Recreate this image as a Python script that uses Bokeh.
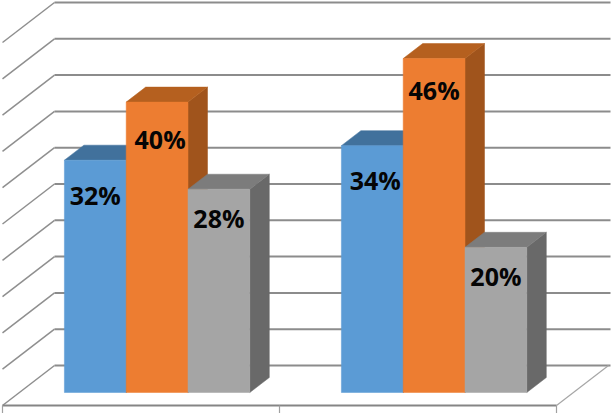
from bokeh.plotting import figure
from bokeh.models import Range1d, ColumnDataSource
from bokeh.core.properties import value
from bokeh.embed import file_html
from bokeh.resources import INLINE

# ---- chart data ----
categories = ["Group 1", "Group 2"]
series_a = [32, 34]
series_b = [40, 46]
series_c = [28, 20]
grid_values = [0, 5, 10, 15, 20, 25, 30, 35, 40, 45, 50]

# ---- geometry (oblique 3-D projection, in axis units) ----
W, H = 612, 413
UX = 277.0            # pixels per category
UY = 7.26             # pixels per percentage point
FLOOR_DX = 52 / UX    # x shift of the back wall
FLOOR_DY = 40 / UY    # y shift of the back wall
BAR_W = 61.8 / UX
BAR_SHIFT = -0.8 / UX
D_FRONT, D_BACK = 13 / 40, 28 / 40


def px(x, v, d=0.0):
    return x + d * FLOOR_DX, v + d * FLOOR_DY


p = figure(width=W, height=H, output_backend="svg", toolbar_location=None,
           x_range=Range1d(-2 / UX, (W - 2) / UX),
           y_range=Range1d(-(H - 405) / UY, 405 / UY),
           min_border=0, outline_line_color=None, background_fill_color="white")
p.xaxis.visible = False
p.yaxis.visible = False
p.grid.visible = False

GRID = "#8c8c8c"
n = len(categories)
# back wall lines + left wall diagonals
for v in grid_values:
    x0, y0 = px(0, v, 0)
    x1, y1 = px(0, v, 1)
    x2 = (610 - 2) / UX
    p.line([x0, x1], [y0, y1], line_color="#8f8f8f", line_width=1.5)
    p.line([x1, x2], [y1, y1], line_color=GRID, line_width=2)
# floor right edge
x0, y0 = px(n, 0, 0)
x1, y1 = px(n, 0, 1)
p.line([x0, x1], [y0, y1], line_color="#a6a6a6", line_width=1.2)
# category axis with ticks
p.line([0, n], [0, 0], line_color="#858585", line_width=2.2)
p.segment(x0=list(range(n + 1)), y0=[0] * (n + 1), x1=list(range(n + 1)),
          y1=[-8 / UY] * (n + 1), line_color="#a0a0a0", line_width=1.2)


def bar(xc, val, front, top, side):
    l, r = xc - BAR_W / 2, xc + BAR_W / 2
    pts = lambda corners: tuple(zip(*[px(a, b, c) for a, b, c in corners]))
    sx, sy = pts([(r, 0, D_FRONT), (r, 0, D_BACK), (r, val, D_BACK), (r, val, D_FRONT)])
    p.patch(list(sx), list(sy), fill_color=side, line_color=side, line_width=0.5)
    tx, ty = pts([(l, val, D_FRONT), (l, val, D_BACK), (r, val, D_BACK), (r, val, D_FRONT)])
    p.patch(list(tx), list(ty), fill_color=top, line_color=top, line_width=0.5)
    fx, fy = pts([(l, 0, D_FRONT), (r, 0, D_FRONT), (r, val, D_FRONT), (l, val, D_FRONT)])
    p.patch(list(fx), list(fy), fill_color=front, line_color=front, line_width=0.5)


styles = [
    (series_a, -1, "#5B9BD5", "#41719C", "#41719C"),
    (series_b, 0, "#ED7D31", "#B5601F", "#A0541C"),
    (series_c, 1, "#A5A5A5", "#7C7C7C", "#696969"),
]
for i in range(n):
    for vals, k, front, top, side in styles:
        bar(i + 0.5 + k * BAR_W + BAR_SHIFT, vals[i], front, top, side)

# data labels
label_drop = [[35, 34], [37, 31], [29, 29]]   # px below the bar top
label_nudge = [[0, 3], [3, 0], [0, 0]]        # px right of the bar centre
lx, ly, lt, lox, loy = [], [], [], [], []
for s, (vals, k, *_ ) in enumerate(styles):
    for i in range(n):
        x, y = px(i + 0.5 + k * BAR_W + BAR_SHIFT, vals[i], D_FRONT)
        lx.append(x)
        ly.append(y)
        lt.append(f"{vals[i]}%")
        lox.append(label_nudge[s][i])
        loy.append(label_drop[s][i])
src = ColumnDataSource(dict(x=lx, y=ly, t=lt, ox=lox, oy=loy))
p.text("x", "y", text="t", source=src, x_offset="ox", y_offset="oy",
       text_font=value("Open Sans"), text_font_style="bold", text_font_size="25px",
       text_color="#050505", text_align="center", text_baseline="middle")

open("out.html", "w").write(file_html(p, INLINE))
